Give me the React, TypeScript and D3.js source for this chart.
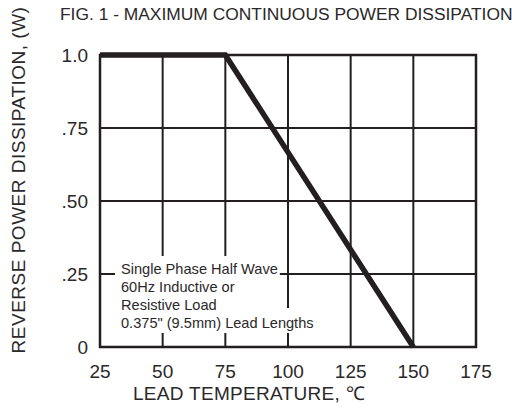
import React, { useEffect, useRef } from 'react';
import * as d3 from 'd3';

const tempTicks = [25, 50, 75, 100, 125, 150, 175];
const powerTicks = [0, 0.25, 0.5, 0.75, 1.0];
const powerTickLabels = ['0', '.25', '.50', '.75', '1.0'];
const curveTemp = [25, 75, 150];
const curvePower = [1.0, 1.0, 0];
const noteLines = [
  'Single Phase Half Wave',
  '60Hz Inductive or',
  'Resistive Load',
  '0.375" (9.5mm) Lead Lengths',
];

const INK = '#231f20';
const TEXT = '#2b2829';
const FONT = '"Liberation Sans", Arial, Helvetica, sans-serif';

export default function App() {
  const svgRef = useRef<SVGSVGElement>(null);
  const width = 512;
  const height = 408;

  useEffect(() => {
    if (!svgRef.current) return;
    const margin = { top: 55, right: 36, bottom: 61, left: 100 };

    const svg = d3.select(svgRef.current);
    svg.selectAll('*').remove();

    const x = d3
      .scaleLinear()
      .domain([25, 175])
      .range([margin.left, width - margin.right]);
    const y = d3
      .scaleLinear()
      .domain([0, 1])
      .range([height - margin.bottom, margin.top]);

    svg.append('rect').attr('width', width).attr('height', height).attr('fill', '#fff');

    // grid
    const grid = svg.append('g').attr('stroke', INK).attr('stroke-width', 2);
    grid
      .selectAll('line.v')
      .data(tempTicks.slice(1, -1))
      .enter()
      .append('line')
      .attr('x1', d => x(d))
      .attr('x2', d => x(d))
      .attr('y1', y(0))
      .attr('y2', y(1));
    grid
      .selectAll('line.h')
      .data(powerTicks.slice(1, -1))
      .enter()
      .append('line')
      .attr('x1', x(25))
      .attr('x2', x(175))
      .attr('y1', d => y(d))
      .attr('y2', d => y(d));

    // note with white backing
    const note = svg.append('g').attr('font-family', FONT).attr('font-size', 14.6).attr('fill', TEXT);
    const noteX = 121;
    const noteY = [274, 292, 310, 328];
    const texts = noteLines.map((t, i) =>
      note.append('text').attr('x', noteX).attr('y', noteY[i]).text(t)
    );
    const lens = texts.map(t => (t.node() as SVGTextElement).getComputedTextLength());
    const topW = Math.max(lens[0], lens[1], lens[2]);
    note
      .insert('rect', 'text')
      .attr('x', noteX - 6)
      .attr('y', 256)
      .attr('width', topW + 8)
      .attr('height', 58)
      .attr('fill', '#fff');
    note
      .insert('rect', 'text')
      .attr('x', noteX - 6)
      .attr('y', 308)
      .attr('width', lens[3] + 6)
      .attr('height', 25)
      .attr('fill', '#fff');

    // frame
    svg
      .append('rect')
      .attr('x', x(25))
      .attr('y', y(1))
      .attr('width', x(175) - x(25))
      .attr('height', y(0) - y(1))
      .attr('fill', 'none')
      .attr('stroke', INK)
      .attr('stroke-width', 2.5);

    // curve
    const line = d3
      .line<number>()
      .x(i => x(curveTemp[i]))
      .y(i => y(curvePower[i]));
    svg
      .append('path')
      .attr('d', line(curveTemp.map((_, i) => i)))
      .attr('fill', 'none')
      .attr('stroke', INK)
      .attr('stroke-width', 5.5)
      .attr('stroke-linejoin', 'miter');

    const labels = svg.append('g').attr('font-family', FONT).attr('fill', TEXT);

    labels
      .selectAll('text.xt')
      .data(tempTicks)
      .enter()
      .append('text')
      .attr('x', d => x(d))
      .attr('y', 378)
      .attr('text-anchor', 'middle')
      .attr('font-size', 19)
      .text(d => String(d));

    labels
      .selectAll('text.yt')
      .data(powerTicks)
      .enter()
      .append('text')
      .attr('x', 88)
      .attr('y', d => y(d) + 7)
      .attr('text-anchor', 'end')
      .attr('font-size', 19)
      .text((d, i) => powerTickLabels[i]);

    labels
      .append('text')
      .attr('x', 249)
      .attr('y', 400)
      .attr('text-anchor', 'middle')
      .attr('font-size', 19)
      .attr('letter-spacing', 0.3)
      .text('LEAD TEMPERATURE, ℃');

    labels
      .append('text')
      .attr('transform', 'translate(25,180) rotate(-90)')
      .attr('text-anchor', 'middle')
      .attr('font-size', 19)
      .attr('letter-spacing', 0.5)
      .text('REVERSE POWER DISSIPATION, (W)');

    labels
      .append('text')
      .attr('x', 60)
      .attr('y', 20)
      .attr('font-size', 17.4)
      .text('FIG. 1 - MAXIMUM CONTINUOUS POWER DISSIPATION');
  }, []);

  return (
    <svg
      ref={svgRef}
      width={width}
      height={height}
      style={{ position: 'absolute', left: 0, top: 0 }}
    ></svg>
  );
}
